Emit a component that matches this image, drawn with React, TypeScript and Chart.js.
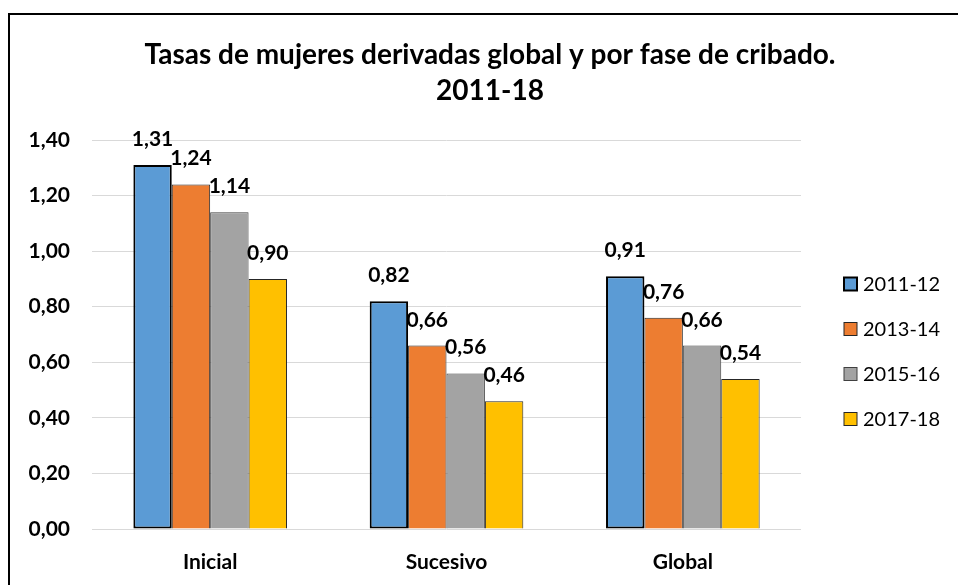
import React, { useEffect, useRef } from "react";
import { Chart, registerables } from "chart.js";

Chart.register(...registerables);

const categories = ["Inicial", "Sucesivo", "Global"];
const seriesLabels = ["2011-12", "2013-14", "2015-16", "2017-18"];
const values2011 = [1.31, 0.82, 0.91];
const values2013 = [1.24, 0.66, 0.76];
const values2015 = [1.14, 0.56, 0.66];
const values2017 = [0.9, 0.46, 0.54];
const yTicks = [0, 0.2, 0.4, 0.6, 0.8, 1.0, 1.2, 1.4];
const titleLines = ["Tasas de mujeres derivadas global y por fase de cribado.", "2011-18"];

const colors = ["#5B9BD5", "#ED7D31", "#A3A3A3", "#FFC000"];
const borders = ["#000000", "#262626", "#404040", "#262626"];
const borderWidths = [2, 1, 1, 1];
const FONT = "Lato, 'Open Sans', sans-serif";

const fmt = (v: number) => v.toFixed(2).replace(".", ",");

export default function App() {
  const ref = useRef<HTMLCanvasElement | null>(null);
  useEffect(() => {
    const canvas = ref.current!;
    const decor = {
      id: "decor",
      afterDraw(chart: any) {
        const ctx = chart.ctx;
        ctx.save();
        // frame
        ctx.strokeStyle = "#000";
        ctx.lineWidth = 2;
        ctx.beginPath();
        ctx.moveTo(9, 600);
        ctx.lineTo(9, 14);
        ctx.lineTo(970, 14);
        ctx.stroke();
        // title
        ctx.fillStyle = "#000";
        ctx.font = `bold 28px ${FONT}`;
        ctx.textAlign = "center";
        ctx.textBaseline = "middle";
        ctx.fillText(titleLines[0], 490, 55);
        ctx.fillText(titleLines[1], 490, 91);
        // data labels
        ctx.font = `bold 21px ${FONT}`;
        ctx.textBaseline = "alphabetic";
        chart.data.datasets.forEach((ds: any, i: number) => {
          const meta = chart.getDatasetMeta(i);
          meta.data.forEach((bar: any, j: number) => {
            ctx.fillText(fmt(ds.data[j]), bar.x, bar.y - 19);
          });
        });
        // legend
        ctx.font = `20px ${FONT}`;
        ctx.textAlign = "left";
        ctx.textBaseline = "middle";
        seriesLabels.forEach((lab, i) => {
          const cy = 284 + i * 45;
          ctx.fillStyle = colors[i];
          ctx.fillRect(844, cy - 6.5, 13, 13);
          ctx.strokeStyle = borders[i];
          ctx.lineWidth = borderWidths[i];
          ctx.strokeRect(844, cy - 6.5, 13, 13);
          ctx.fillStyle = "#000";
          ctx.fillText(lab, 863, cy + 1);
        });
        ctx.restore();
      },
    };
    const chart = new Chart(canvas, {
      type: "bar",
      data: {
        labels: categories,
        datasets: [values2011, values2013, values2015, values2017].map((d, i) => ({
          label: seriesLabels[i],
          data: d,
          backgroundColor: colors[i],
          borderColor: borders[i],
          borderWidth: borderWidths[i],
          borderSkipped: i === 0 ? false : "start",
          categoryPercentage: 0.65,
          barPercentage: 1.0,
        })),
      },
      options: {
        animation: false,
        responsive: false,
        maintainAspectRatio: false,
        layout: { padding: { left: 0, right: 157, top: 140, bottom: 0 } },
        plugins: { legend: { display: false }, title: { display: false }, tooltip: { enabled: false } },
        scales: {
          x: {
            grid: { display: false },
            border: { display: false },
            ticks: { color: "#000", font: { family: FONT, size: 21, weight: "bold" }, padding: 13 },
            afterFit: (s: any) => { s.height = 56; },
          },
          y: {
            min: 0,
            max: 1.4,
            afterBuildTicks: (s: any) => { s.ticks = yTicks.map((v) => ({ value: v })); },
            grid: { color: "#D9D9D9", lineWidth: 1, drawTicks: false },
            border: { display: false },
            ticks: {
              color: "#000",
              font: { family: FONT, size: 21, weight: "bold" },
              padding: 22,
              callback: (v: any) => fmt(Number(v)),
            },
            afterFit: (s: any) => { s.width = 92; },
          },
        },
      },
      plugins: [decor],
    });
    return () => chart.destroy();
  }, []);
  return (
    <div style={{ position: "fixed", left: 0, top: 0, width: 958, height: 585, background: "#fff" }}>
      <canvas ref={ref} width={958} height={585} style={{ width: 958, height: 585, display: "block" }} />
    </div>
  );
}
